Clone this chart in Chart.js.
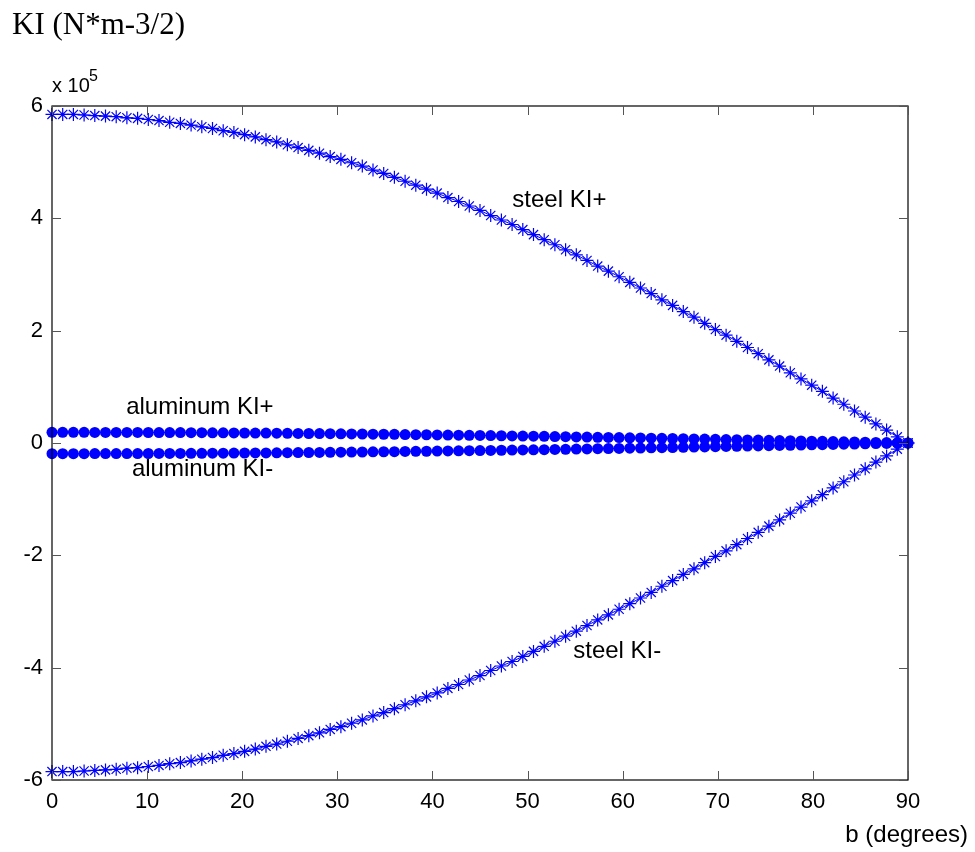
<!DOCTYPE html>
<html>
<head>
<meta charset="utf-8">
<script src="https://cdn.jsdelivr.net/npm/chart.js@4.4.0/dist/chart.umd.min.js"></script>
<style>
  html, body { margin: 0; padding: 0; background: #fff; }
  #wrap { width: 975px; height: 852px; }
</style>
</head>
<body>
<div id="wrap"><canvas id="KICHART"></canvas></div>
<script>
// angle b (degrees), 81 samples
var angles = [0, 1.125, 2.25, 3.375, 4.5, 5.625, 6.75, 7.875, 9, 10.125,
    11.25, 12.375, 13.5, 14.625, 15.75, 16.875, 18, 19.125, 20.25, 21.375,
    22.5, 23.625, 24.75, 25.875, 27, 28.125, 29.25, 30.375, 31.5, 32.625,
    33.75, 34.875, 36, 37.125, 38.25, 39.375, 40.5, 41.625, 42.75, 43.875,
    45, 46.125, 47.25, 48.375, 49.5, 50.625, 51.75, 52.875, 54, 55.125,
    56.25, 57.375, 58.5, 59.625, 60.75, 61.875, 63, 64.125, 65.25, 66.375,
    67.5, 68.625, 69.75, 70.875, 72, 73.125, 74.25, 75.375, 76.5, 77.625,
    78.75, 79.875, 81, 82.125, 83.25, 84.375, 85.5, 86.625, 87.75, 88.875, 90];

// values in units of 1e5 N*m^-3/2
var steelPlus = [5.85, 5.85, 5.85, 5.84, 5.83, 5.82, 5.81, 5.79, 5.78, 5.76,
    5.74, 5.71, 5.69, 5.66, 5.63, 5.60, 5.56, 5.53, 5.49, 5.45,
    5.40, 5.36, 5.31, 5.26, 5.21, 5.16, 5.10, 5.05, 4.99, 4.93,
    4.86, 4.80, 4.73, 4.66, 4.59, 4.52, 4.45, 4.37, 4.30, 4.22,
    4.14, 4.05, 3.97, 3.89, 3.80, 3.71, 3.62, 3.53, 3.44, 3.35,
    3.25, 3.15, 3.06, 2.96, 2.86, 2.76, 2.66, 2.55, 2.45, 2.34,
    2.24, 2.13, 2.02, 1.92, 1.81, 1.70, 1.59, 1.48, 1.37, 1.25,
    1.14, 1.03, 0.92, 0.80, 0.69, 0.57, 0.46, 0.34, 0.23, 0.11, 0.00];

var steelMinus = [-5.85, -5.85, -5.85, -5.84, -5.83, -5.82, -5.81, -5.79, -5.78, -5.76,
    -5.74, -5.71, -5.69, -5.66, -5.63, -5.60, -5.56, -5.53, -5.49, -5.45,
    -5.40, -5.36, -5.31, -5.26, -5.21, -5.16, -5.10, -5.05, -4.99, -4.93,
    -4.86, -4.80, -4.73, -4.66, -4.59, -4.52, -4.45, -4.37, -4.30, -4.22,
    -4.14, -4.05, -3.97, -3.89, -3.80, -3.71, -3.62, -3.53, -3.44, -3.35,
    -3.25, -3.15, -3.06, -2.96, -2.86, -2.76, -2.66, -2.55, -2.45, -2.34,
    -2.24, -2.13, -2.02, -1.92, -1.81, -1.70, -1.59, -1.48, -1.37, -1.25,
    -1.14, -1.03, -0.92, -0.80, -0.69, -0.57, -0.46, -0.34, -0.23, -0.11, 0.00];

var aluPlus = [0.190, 0.190, 0.190, 0.190, 0.189, 0.189, 0.189, 0.188, 0.188, 0.187,
    0.186, 0.186, 0.185, 0.184, 0.183, 0.182, 0.181, 0.180, 0.178, 0.177,
    0.176, 0.174, 0.173, 0.171, 0.169, 0.168, 0.166, 0.164, 0.162, 0.160,
    0.158, 0.156, 0.154, 0.151, 0.149, 0.147, 0.144, 0.142, 0.140, 0.137,
    0.134, 0.132, 0.129, 0.126, 0.123, 0.121, 0.118, 0.115, 0.112, 0.109,
    0.106, 0.102, 0.099, 0.096, 0.093, 0.090, 0.086, 0.083, 0.080, 0.076,
    0.073, 0.069, 0.066, 0.062, 0.059, 0.055, 0.052, 0.048, 0.044, 0.041,
    0.037, 0.033, 0.030, 0.026, 0.022, 0.019, 0.015, 0.011, 0.007, 0.004, 0.000];

var aluMinus = [-0.190, -0.190, -0.190, -0.190, -0.189, -0.189, -0.189, -0.188, -0.188, -0.187,
    -0.186, -0.186, -0.185, -0.184, -0.183, -0.182, -0.181, -0.180, -0.178, -0.177,
    -0.176, -0.174, -0.173, -0.171, -0.169, -0.168, -0.166, -0.164, -0.162, -0.160,
    -0.158, -0.156, -0.154, -0.151, -0.149, -0.147, -0.144, -0.142, -0.140, -0.137,
    -0.134, -0.132, -0.129, -0.126, -0.123, -0.121, -0.118, -0.115, -0.112, -0.109,
    -0.106, -0.102, -0.099, -0.096, -0.093, -0.090, -0.086, -0.083, -0.080, -0.076,
    -0.073, -0.069, -0.066, -0.062, -0.059, -0.055, -0.052, -0.048, -0.044, -0.041,
    -0.037, -0.033, -0.030, -0.026, -0.022, -0.019, -0.015, -0.011, -0.007, -0.004, 0.000];

var xTicks = [0, 10, 20, 30, 40, 50, 60, 70, 80, 90];
var yTicks = [-6, -4, -2, 0, 2, 4, 6];

// text labels placed in data coordinates [x, y]
var notes = [
    { text: 'steel KI+', x: 48.4, y: 4.21 },
    { text: 'aluminum KI+', x: 7.8, y: 0.51 },
    { text: 'aluminum KI-', x: 8.4, y: -0.59 },
    { text: 'steel KI-', x: 54.8, y: -3.83 }
];

function pts(ys) {
    return angles.map((a, i) => ({ x: a, y: ys[i] }));
}

var BLUE = '#0000ff';
var FONT = '"Liberation Sans", Arial, sans-serif';

// MATLAB-like box, inward ticks and extra texts
var matlabBox = {
    id: 'matlabBox',
    beforeDraw(chart) {
        const c = chart.ctx;
        c.save();
        c.fillStyle = '#fff';
        c.fillRect(0, 0, chart.width, chart.height);
        c.restore();
    },
    afterDatasetsDraw(chart) {
        const c = chart.ctx;
        const a = chart.chartArea;
        const xs = chart.scales.x, ys = chart.scales.y;
        c.save();
        c.strokeStyle = '#000';
        c.lineWidth = 1.2;
        c.strokeRect(a.left, a.top, a.right - a.left, a.bottom - a.top);
        c.strokeStyle = '#555';
        c.lineWidth = 1;
        const tl = 9;
        xTicks.forEach(v => {
            const px = Math.round(xs.getPixelForValue(v)) + 0.5;
            c.beginPath();
            c.moveTo(px, a.bottom); c.lineTo(px, a.bottom - tl);
            c.moveTo(px, a.top); c.lineTo(px, a.top + tl);
            c.stroke();
        });
        yTicks.forEach(v => {
            const py = Math.round(ys.getPixelForValue(v)) + 0.5;
            c.beginPath();
            c.moveTo(a.left, py); c.lineTo(a.left + tl, py);
            c.moveTo(a.right, py); c.lineTo(a.right - tl, py);
            c.stroke();
        });

        c.fillStyle = '#000';
        c.textBaseline = 'alphabetic';
        c.textAlign = 'left';
        c.font = '24px ' + FONT;
        notes.forEach(n => {
            c.fillText(n.text, xs.getPixelForValue(n.x), ys.getPixelForValue(n.y));
        });

        // axis titles
        c.font = '31px "Liberation Serif", "Times New Roman", serif';
        c.fillText('KI (N*m-3/2)', 12, 34);
        c.font = '20px ' + FONT;
        c.fillText('x 10', 52, 92);
        c.font = '16px ' + FONT;
        c.fillText('5', 89, 81);
        c.font = '24px ' + FONT;
        c.textAlign = 'right';
        c.fillText('b (degrees)', 968, 842);
        c.restore();
    }
};

var ctx = document.getElementById('KICHART').getContext('2d');
var myChart = new Chart(ctx, {
    type: 'line',
    data: {
        datasets: [{
            label: 'steel KI+',
            data: pts(steelPlus),
            borderColor: BLUE,
            borderWidth: 1,
            pointStyle: 'star',
            pointRadius: 6.5,
            pointBorderColor: BLUE,
            pointBorderWidth: 1.2,
            pointBackgroundColor: BLUE
        }, {
            label: 'steel KI-',
            data: pts(steelMinus),
            borderColor: BLUE,
            borderWidth: 1,
            pointStyle: 'star',
            pointRadius: 6.5,
            pointBorderColor: BLUE,
            pointBorderWidth: 1.2,
            pointBackgroundColor: BLUE
        }, {
            label: 'aluminum KI+',
            data: pts(aluPlus),
            borderColor: BLUE,
            borderWidth: 1,
            pointStyle: 'circle',
            pointRadius: 5.5,
            pointBorderWidth: 0,
            pointBackgroundColor: BLUE
        }, {
            label: 'aluminum KI-',
            data: pts(aluMinus),
            borderColor: BLUE,
            borderWidth: 1,
            pointStyle: 'circle',
            pointRadius: 5.5,
            pointBorderWidth: 0,
            pointBackgroundColor: BLUE
        }]
    },
    options: {
        responsive: true,
        maintainAspectRatio: false,
        animation: false,
        clip: false,
        layout: {
            padding: { left: 0, top: 106, right: 67, bottom: 0 }
        },
        scales: {
            x: {
                type: 'linear',
                min: 0,
                max: 90,
                afterBuildTicks: (scale) => { scale.ticks = xTicks.map(v => ({ value: v })); },
                afterFit: (scale) => { scale.height = 72; },
                grid: { display: false, drawTicks: false },
                border: { display: false },
                ticks: {
                    padding: 9,
                    color: '#000',
                    font: { family: FONT, size: 22 }
                }
            },
            y: {
                type: 'linear',
                min: -6,
                max: 6,
                afterBuildTicks: (scale) => { scale.ticks = yTicks.map(v => ({ value: v })); },
                afterFit: (scale) => { scale.width = 52; },
                grid: { display: false, drawTicks: false },
                border: { display: false },
                ticks: {
                    padding: 9,
                    color: '#000',
                    font: { family: FONT, size: 22 }
                }
            }
        },
        plugins: {
            legend: { display: false },
            tooltip: { enabled: false }
        }
    },
    plugins: [matlabBox]
});
</script>
</body>
</html>
